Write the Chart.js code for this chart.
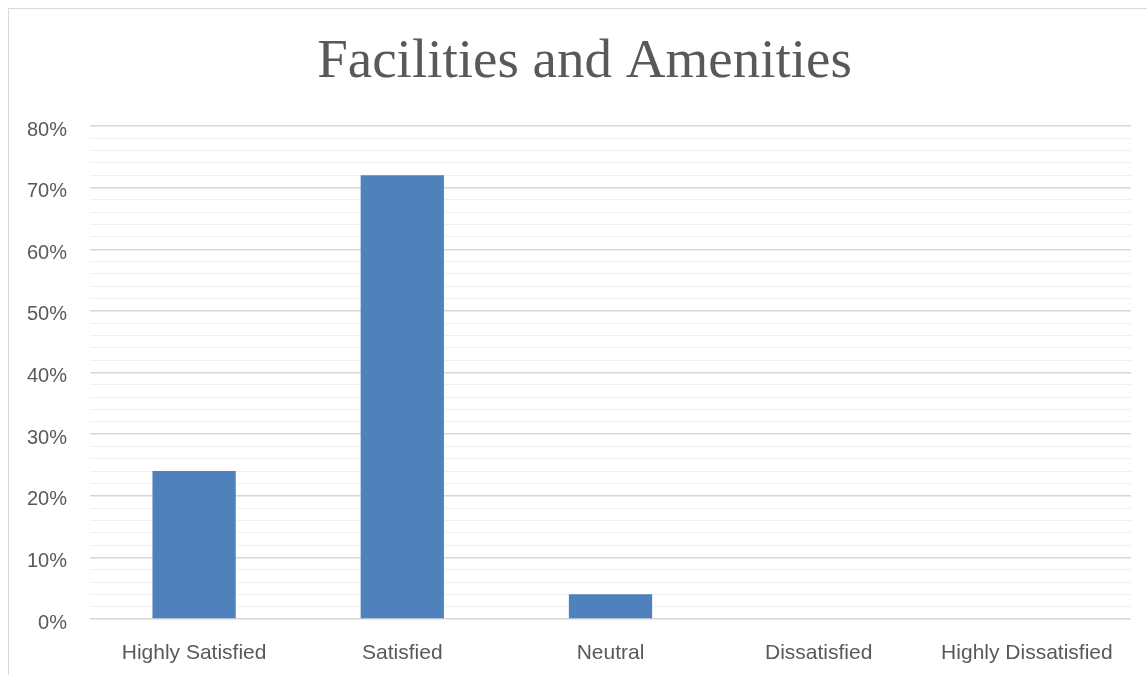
<!DOCTYPE html>
<html>
<head>
<meta charset="utf-8">
<script src="https://cdn.jsdelivr.net/npm/chart.js@4"></script>
<style>
  html, body { margin: 0; padding: 0; background: #fff; }
  #wrap { width: 1147px; height: 675px; position: relative; }
</style>
</head>
<body>
<div id="wrap"><canvas id="chart" width="1147" height="675"></canvas></div>
<script>
// Survey answers (share of respondents)
const categories = ['Highly Satisfied', 'Satisfied', 'Neutral', 'Dissatisfied', 'Highly Dissatisfied'];
const shares = [24, 72, 4, 0, 0];
const yTicks = [0, 10, 20, 30, 40, 50, 60, 70, 80];

// Outer frame like the spreadsheet chart box; also nudge the title to the
// centre of that (wider) box
const framePlugin = {
  id: 'frame',
  afterLayout(chart) {
    if (chart.titleBlock) chart.titleBlock.left += 14;
  },
  beforeDraw(chart) {
    const ctx = chart.ctx;
    ctx.save();
    ctx.fillStyle = '#fff';
    ctx.fillRect(0, 0, chart.width, chart.height);
    ctx.strokeStyle = '#d9d9d9';
    ctx.lineWidth = 1;
    ctx.strokeRect(8.5, 8.5, 1170, 700);
    ctx.restore();
  }
};

const ctx = document.getElementById('chart').getContext('2d');
new Chart(ctx, {
  type: 'bar',
  data: {
    labels: categories,
    datasets: [{
      label: 'Facilities and Amenities',
      data: shares,
      backgroundColor: '#4f81bd',
      borderWidth: 0,
      categoryPercentage: 1,
      barPercentage: 0.4
    }]
  },
  options: {
    responsive: false,
    animation: false,
    layout: { padding: { left: 24, right: 16, top: 0, bottom: 0 } },
    plugins: {
      legend: { display: false },
      tooltip: { enabled: false },
      title: {
        display: true,
        text: 'Facilities and Amenities',
        color: '#595959',
        font: { family: '"Liberation Serif", serif', size: 55, weight: 'normal' },
        padding: { top: 30, bottom: 30 }
      }
    },
    scales: {
      x: {
        grid: { display: false },
        border: { display: false },
        ticks: {
          color: '#595959',
          font: { family: '"Liberation Sans", sans-serif', size: 21 },
          padding: 14,
          maxRotation: 0
        },
        afterFit(scale) { scale.height = 56; }
      },
      y: {
        min: 0,
        max: 80,
        border: { display: false },
        grid: {
          drawTicks: false,
          color: (c) => (yTicks.includes(c.tick.value) ? '#d6d6d6' : '#efefef'),
          lineWidth: (c) => (yTicks.includes(c.tick.value) ? 1.5 : 1)
        },
        ticks: {
          stepSize: 2,
          autoSkip: false,
          color: '#595959',
          font: { family: '"Liberation Sans", sans-serif', size: 20 },
          padding: 23,
          labelOffset: 4,
          callback: (v) => (yTicks.includes(v) ? v + '%' : '')
        },
        afterFit(scale) { scale.width = 66; }
      }
    }
  },
  plugins: [framePlugin]
});
</script>
</body>
</html>
